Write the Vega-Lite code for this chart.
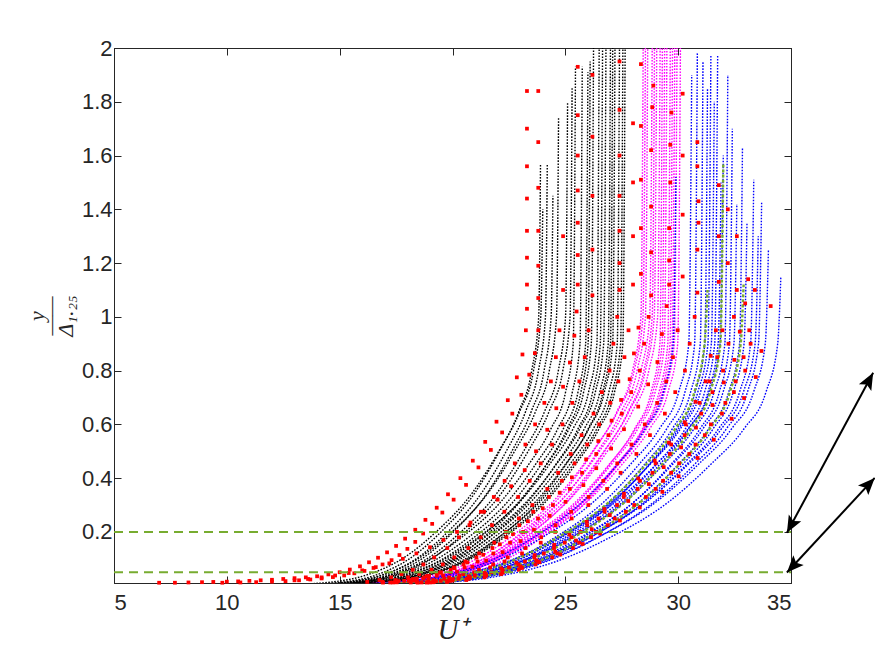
{
  "$schema": "https://vega.github.io/schema/vega-lite/v6.json",
  "width": 677,
  "height": 535,
  "autosize": "none",
  "padding": {"left": 114, "top": 48, "right": 84, "bottom": 73},
  "background": "white",
  "config": {"view": {"stroke": "#262626", "strokeWidth": 1}},
  "datasets": {
    "k": [
      {"i":1,"x":13.05,"y":0.003},{"i":1,"x":15.01,"y":0.012},{"i":1,"x":16.62,"y":0.04},{"i":1,"x":18.09,"y":0.1},{"i":1,"x":19.49,"y":0.2},{"i":1,"x":21.03,"y":0.35},{"i":1,"x":22.08,"y":0.5},{"i":1,"x":22.95,"y":0.65},{"i":1,"x":23.51,"y":0.8},{"i":1,"x":23.82,"y":1.0},{"i":1,"x":23.9,"y":1.57},
      {"i":2,"x":13.35,"y":0.003},{"i":2,"x":15.31,"y":0.012},{"i":2,"x":16.92,"y":0.04},{"i":2,"x":18.39,"y":0.1},{"i":2,"x":19.79,"y":0.2},{"i":2,"x":21.33,"y":0.35},{"i":2,"x":22.38,"y":0.5},{"i":2,"x":23.25,"y":0.65},{"i":2,"x":23.81,"y":0.8},{"i":2,"x":24.12,"y":1.0},{"i":2,"x":24.2,"y":1.57},
      {"i":3,"x":13.6,"y":0.003},{"i":3,"x":15.56,"y":0.012},{"i":3,"x":17.17,"y":0.04},{"i":3,"x":18.64,"y":0.1},{"i":3,"x":20.04,"y":0.2},{"i":3,"x":21.58,"y":0.35},{"i":3,"x":22.63,"y":0.5},{"i":3,"x":23.5,"y":0.65},{"i":3,"x":24.06,"y":0.8},{"i":3,"x":24.37,"y":1.0},{"i":3,"x":24.45,"y":1.45},
      {"i":4,"x":13.07,"y":0.003},{"i":4,"x":15.17,"y":0.012},{"i":4,"x":16.9,"y":0.04},{"i":4,"x":18.47,"y":0.1},{"i":4,"x":19.97,"y":0.2},{"i":4,"x":21.62,"y":0.35},{"i":4,"x":22.75,"y":0.5},{"i":4,"x":23.69,"y":0.65},{"i":4,"x":24.29,"y":0.8},{"i":4,"x":24.61,"y":1.0},{"i":4,"x":24.7,"y":1.74},
      {"i":5,"x":13.47,"y":0.003},{"i":5,"x":15.57,"y":0.012},{"i":5,"x":17.3,"y":0.04},{"i":5,"x":18.87,"y":0.1},{"i":5,"x":20.37,"y":0.2},{"i":5,"x":22.02,"y":0.35},{"i":5,"x":23.15,"y":0.5},{"i":5,"x":24.09,"y":0.65},{"i":5,"x":24.69,"y":0.8},{"i":5,"x":25.01,"y":1.0},{"i":5,"x":25.1,"y":1.8},
      {"i":6,"x":13.67,"y":0.003},{"i":6,"x":15.77,"y":0.012},{"i":6,"x":17.5,"y":0.04},{"i":6,"x":19.07,"y":0.1},{"i":6,"x":20.57,"y":0.2},{"i":6,"x":22.22,"y":0.35},{"i":6,"x":23.35,"y":0.5},{"i":6,"x":24.29,"y":0.65},{"i":6,"x":24.89,"y":0.8},{"i":6,"x":25.21,"y":1.0},{"i":6,"x":25.3,"y":1.85},
      {"i":7,"x":13.05,"y":0.0027},{"i":7,"x":15.29,"y":0.0108},{"i":7,"x":17.13,"y":0.036},{"i":7,"x":18.81,"y":0.09},{"i":7,"x":20.41,"y":0.18},{"i":7,"x":22.17,"y":0.315},{"i":7,"x":23.37,"y":0.45},{"i":7,"x":24.37,"y":0.585},{"i":7,"x":25.01,"y":0.72},{"i":7,"x":25.35,"y":0.9},{"i":7,"x":25.45,"y":1.93},
      {"i":8,"x":13.35,"y":0.0027},{"i":8,"x":15.59,"y":0.0108},{"i":8,"x":17.43,"y":0.036},{"i":8,"x":19.11,"y":0.09},{"i":8,"x":20.71,"y":0.18},{"i":8,"x":22.47,"y":0.315},{"i":8,"x":23.67,"y":0.45},{"i":8,"x":24.67,"y":0.585},{"i":8,"x":25.31,"y":0.72},{"i":8,"x":25.65,"y":0.9},{"i":8,"x":25.75,"y":1.93},
      {"i":9,"x":13.6,"y":0.0027},{"i":9,"x":15.84,"y":0.0108},{"i":9,"x":17.68,"y":0.036},{"i":9,"x":19.36,"y":0.09},{"i":9,"x":20.96,"y":0.18},{"i":9,"x":22.72,"y":0.315},{"i":9,"x":23.92,"y":0.45},{"i":9,"x":24.92,"y":0.585},{"i":9,"x":25.56,"y":0.72},{"i":9,"x":25.9,"y":0.9},{"i":9,"x":26.0,"y":1.91},
      {"i":10,"x":13.85,"y":0.0027},{"i":10,"x":16.09,"y":0.0108},{"i":10,"x":17.93,"y":0.036},{"i":10,"x":19.61,"y":0.09},{"i":10,"x":21.21,"y":0.18},{"i":10,"x":22.97,"y":0.315},{"i":10,"x":24.17,"y":0.45},{"i":10,"x":25.17,"y":0.585},{"i":10,"x":25.81,"y":0.72},{"i":10,"x":26.15,"y":0.9},{"i":10,"x":26.25,"y":2.0},
      {"i":11,"x":13.32,"y":0.0027},{"i":11,"x":15.7,"y":0.0108},{"i":11,"x":17.66,"y":0.036},{"i":11,"x":19.44,"y":0.09},{"i":11,"x":21.14,"y":0.18},{"i":11,"x":23.01,"y":0.315},{"i":11,"x":24.29,"y":0.45},{"i":11,"x":25.35,"y":0.585},{"i":11,"x":26.03,"y":0.72},{"i":11,"x":26.4,"y":0.9},{"i":11,"x":26.5,"y":2.0},
      {"i":12,"x":14.25,"y":0.0027},{"i":12,"x":16.49,"y":0.0108},{"i":12,"x":18.33,"y":0.036},{"i":12,"x":20.01,"y":0.09},{"i":12,"x":21.61,"y":0.18},{"i":12,"x":23.37,"y":0.315},{"i":12,"x":24.57,"y":0.45},{"i":12,"x":25.57,"y":0.585},{"i":12,"x":26.21,"y":0.72},{"i":12,"x":26.55,"y":0.9},{"i":12,"x":26.65,"y":2.0},
      {"i":13,"x":13.62,"y":0.0027},{"i":13,"x":16.0,"y":0.0108},{"i":13,"x":17.96,"y":0.036},{"i":13,"x":19.74,"y":0.09},{"i":13,"x":21.44,"y":0.18},{"i":13,"x":23.31,"y":0.315},{"i":13,"x":24.59,"y":0.45},{"i":13,"x":25.65,"y":0.585},{"i":13,"x":26.33,"y":0.72},{"i":13,"x":26.7,"y":0.9},{"i":13,"x":26.8,"y":2.0},
      {"i":14,"x":13.82,"y":0.0027},{"i":14,"x":16.2,"y":0.0108},{"i":14,"x":18.16,"y":0.036},{"i":14,"x":19.94,"y":0.09},{"i":14,"x":21.64,"y":0.18},{"i":14,"x":23.51,"y":0.315},{"i":14,"x":24.79,"y":0.45},{"i":14,"x":25.85,"y":0.585},{"i":14,"x":26.53,"y":0.72},{"i":14,"x":26.9,"y":0.9},{"i":14,"x":27.0,"y":2.0},
      {"i":15,"x":14.02,"y":0.0027},{"i":15,"x":16.4,"y":0.0108},{"i":15,"x":18.36,"y":0.036},{"i":15,"x":20.14,"y":0.09},{"i":15,"x":21.84,"y":0.18},{"i":15,"x":23.71,"y":0.315},{"i":15,"x":24.99,"y":0.45},{"i":15,"x":26.05,"y":0.585},{"i":15,"x":26.73,"y":0.72},{"i":15,"x":27.1,"y":0.9},{"i":15,"x":27.2,"y":2.0},
      {"i":16,"x":14.22,"y":0.0027},{"i":16,"x":16.6,"y":0.0108},{"i":16,"x":18.56,"y":0.036},{"i":16,"x":20.34,"y":0.09},{"i":16,"x":22.04,"y":0.18},{"i":16,"x":23.91,"y":0.315},{"i":16,"x":25.19,"y":0.45},{"i":16,"x":26.25,"y":0.585},{"i":16,"x":26.93,"y":0.72},{"i":16,"x":27.3,"y":0.9},{"i":16,"x":27.4,"y":2.0},
      {"i":17,"x":14.37,"y":0.0027},{"i":17,"x":16.75,"y":0.0108},{"i":17,"x":18.71,"y":0.036},{"i":17,"x":20.49,"y":0.09},{"i":17,"x":22.19,"y":0.18},{"i":17,"x":24.06,"y":0.315},{"i":17,"x":25.34,"y":0.45},{"i":17,"x":26.4,"y":0.585},{"i":17,"x":27.08,"y":0.72},{"i":17,"x":27.45,"y":0.9},{"i":17,"x":27.55,"y":2.0},
      {"i":18,"x":14.47,"y":0.0027},{"i":18,"x":16.85,"y":0.0108},{"i":18,"x":18.81,"y":0.036},{"i":18,"x":20.59,"y":0.09},{"i":18,"x":22.29,"y":0.18},{"i":18,"x":24.16,"y":0.315},{"i":18,"x":25.44,"y":0.45},{"i":18,"x":26.5,"y":0.585},{"i":18,"x":27.18,"y":0.72},{"i":18,"x":27.55,"y":0.9},{"i":18,"x":27.65,"y":2.0},
      {"i":19,"x":14.47,"y":0.0027},{"i":19,"x":16.57,"y":0.0108},{"i":19,"x":18.3,"y":0.036},{"i":19,"x":19.87,"y":0.09},{"i":19,"x":21.37,"y":0.18},{"i":19,"x":23.02,"y":0.315},{"i":19,"x":24.15,"y":0.45},{"i":19,"x":25.09,"y":0.585},{"i":19,"x":25.69,"y":0.72},{"i":19,"x":26.01,"y":0.9},{"i":19,"x":26.1,"y":1.95},
      {"i":20,"x":14.7,"y":0.0027},{"i":20,"x":16.94,"y":0.0108},{"i":20,"x":18.78,"y":0.036},{"i":20,"x":20.46,"y":0.09},{"i":20,"x":22.06,"y":0.18},{"i":20,"x":23.82,"y":0.315},{"i":20,"x":25.02,"y":0.45},{"i":20,"x":26.02,"y":0.585},{"i":20,"x":26.66,"y":0.72},{"i":20,"x":27.0,"y":0.9},{"i":20,"x":27.1,"y":2.0},
      {"i":21,"x":12.37,"y":0.003},{"i":21,"x":14.47,"y":0.012},{"i":21,"x":16.2,"y":0.04},{"i":21,"x":17.77,"y":0.1},{"i":21,"x":19.27,"y":0.2},{"i":21,"x":20.92,"y":0.35},{"i":21,"x":22.05,"y":0.5},{"i":21,"x":22.99,"y":0.65},{"i":21,"x":23.59,"y":0.8},{"i":21,"x":23.91,"y":1.0},{"i":21,"x":24.0,"y":1.4}
    ],
    "m": [
      {"i":1,"x":15.27,"y":0.003},{"i":1,"x":17.65,"y":0.012},{"i":1,"x":19.61,"y":0.04},{"i":1,"x":21.39,"y":0.1},{"i":1,"x":23.09,"y":0.2},{"i":1,"x":24.96,"y":0.35},{"i":1,"x":26.24,"y":0.5},{"i":1,"x":27.3,"y":0.65},{"i":1,"x":27.98,"y":0.8},{"i":1,"x":28.35,"y":1.0},{"i":1,"x":28.45,"y":2.0},
      {"i":2,"x":15.47,"y":0.003},{"i":2,"x":17.85,"y":0.012},{"i":2,"x":19.81,"y":0.04},{"i":2,"x":21.59,"y":0.1},{"i":2,"x":23.29,"y":0.2},{"i":2,"x":25.16,"y":0.35},{"i":2,"x":26.44,"y":0.5},{"i":2,"x":27.5,"y":0.65},{"i":2,"x":28.18,"y":0.8},{"i":2,"x":28.55,"y":1.0},{"i":2,"x":28.65,"y":2.0},
      {"i":3,"x":14.9,"y":0.003},{"i":3,"x":17.42,"y":0.012},{"i":3,"x":19.49,"y":0.04},{"i":3,"x":21.38,"y":0.1},{"i":3,"x":23.18,"y":0.2},{"i":3,"x":25.16,"y":0.35},{"i":3,"x":26.51,"y":0.5},{"i":3,"x":27.63,"y":0.65},{"i":3,"x":28.35,"y":0.8},{"i":3,"x":28.74,"y":1.0},{"i":3,"x":28.85,"y":2.0},
      {"i":4,"x":15.1,"y":0.003},{"i":4,"x":17.62,"y":0.012},{"i":4,"x":19.69,"y":0.04},{"i":4,"x":21.58,"y":0.1},{"i":4,"x":23.38,"y":0.2},{"i":4,"x":25.36,"y":0.35},{"i":4,"x":26.71,"y":0.5},{"i":4,"x":27.83,"y":0.65},{"i":4,"x":28.55,"y":0.8},{"i":4,"x":28.94,"y":1.0},{"i":4,"x":29.05,"y":2.0},
      {"i":5,"x":15.25,"y":0.003},{"i":5,"x":17.77,"y":0.012},{"i":5,"x":19.84,"y":0.04},{"i":5,"x":21.73,"y":0.1},{"i":5,"x":23.53,"y":0.2},{"i":5,"x":25.51,"y":0.35},{"i":5,"x":26.86,"y":0.5},{"i":5,"x":27.98,"y":0.65},{"i":5,"x":28.7,"y":0.8},{"i":5,"x":29.09,"y":1.0},{"i":5,"x":29.2,"y":2.0},
      {"i":6,"x":15.35,"y":0.0027},{"i":6,"x":17.87,"y":0.0108},{"i":6,"x":19.94,"y":0.036},{"i":6,"x":21.83,"y":0.09},{"i":6,"x":23.63,"y":0.18},{"i":6,"x":25.61,"y":0.315},{"i":6,"x":26.96,"y":0.45},{"i":6,"x":28.08,"y":0.585},{"i":6,"x":28.8,"y":0.72},{"i":6,"x":29.19,"y":0.9},{"i":6,"x":29.3,"y":2.0},
      {"i":7,"x":14.77,"y":0.0027},{"i":7,"x":17.43,"y":0.0108},{"i":7,"x":19.62,"y":0.036},{"i":7,"x":21.61,"y":0.09},{"i":7,"x":23.51,"y":0.18},{"i":7,"x":25.6,"y":0.315},{"i":7,"x":27.03,"y":0.45},{"i":7,"x":28.22,"y":0.585},{"i":7,"x":28.98,"y":0.72},{"i":7,"x":29.39,"y":0.9},{"i":7,"x":29.5,"y":2.0},
      {"i":8,"x":15.02,"y":0.0027},{"i":8,"x":17.68,"y":0.0108},{"i":8,"x":19.87,"y":0.036},{"i":8,"x":21.86,"y":0.09},{"i":8,"x":23.76,"y":0.18},{"i":8,"x":25.85,"y":0.315},{"i":8,"x":27.28,"y":0.45},{"i":8,"x":28.47,"y":0.585},{"i":8,"x":29.23,"y":0.72},{"i":8,"x":29.64,"y":0.9},{"i":8,"x":29.75,"y":2.0},
      {"i":9,"x":14.45,"y":0.0027},{"i":9,"x":17.25,"y":0.0108},{"i":9,"x":19.55,"y":0.036},{"i":9,"x":21.65,"y":0.09},{"i":9,"x":23.65,"y":0.18},{"i":9,"x":25.85,"y":0.315},{"i":9,"x":27.35,"y":0.45},{"i":9,"x":28.6,"y":0.585},{"i":9,"x":29.4,"y":0.72},{"i":9,"x":29.83,"y":0.9},{"i":9,"x":29.95,"y":2.0},
      {"i":10,"x":14.6,"y":0.0027},{"i":10,"x":17.4,"y":0.0108},{"i":10,"x":19.7,"y":0.036},{"i":10,"x":21.8,"y":0.09},{"i":10,"x":23.8,"y":0.18},{"i":10,"x":26.0,"y":0.315},{"i":10,"x":27.5,"y":0.45},{"i":10,"x":28.75,"y":0.585},{"i":10,"x":29.55,"y":0.72},{"i":10,"x":29.98,"y":0.9},{"i":10,"x":30.1,"y":2.0},
      {"i":11,"x":14.6,"y":0.003},{"i":11,"x":17.12,"y":0.012},{"i":11,"x":19.19,"y":0.04},{"i":11,"x":21.08,"y":0.1},{"i":11,"x":22.88,"y":0.2},{"i":11,"x":24.86,"y":0.35},{"i":11,"x":26.21,"y":0.5},{"i":11,"x":27.33,"y":0.65},{"i":11,"x":28.05,"y":0.8},{"i":11,"x":28.44,"y":1.0},{"i":11,"x":28.55,"y":2.0},
      {"i":12,"x":15.77,"y":0.003},{"i":12,"x":18.15,"y":0.012},{"i":12,"x":20.11,"y":0.04},{"i":12,"x":21.89,"y":0.1},{"i":12,"x":23.59,"y":0.2},{"i":12,"x":25.46,"y":0.35},{"i":12,"x":26.74,"y":0.5},{"i":12,"x":27.8,"y":0.65},{"i":12,"x":28.48,"y":0.8},{"i":12,"x":28.85,"y":1.0},{"i":12,"x":28.95,"y":2.0},
      {"i":13,"x":14.67,"y":0.0027},{"i":13,"x":17.33,"y":0.0108},{"i":13,"x":19.52,"y":0.036},{"i":13,"x":21.51,"y":0.09},{"i":13,"x":23.41,"y":0.18},{"i":13,"x":25.5,"y":0.315},{"i":13,"x":26.93,"y":0.45},{"i":13,"x":28.12,"y":0.585},{"i":13,"x":28.88,"y":0.72},{"i":13,"x":29.29,"y":0.9},{"i":13,"x":29.4,"y":2.0},
      {"i":14,"x":15.7,"y":0.0027},{"i":14,"x":18.22,"y":0.0108},{"i":14,"x":20.29,"y":0.036},{"i":14,"x":22.18,"y":0.09},{"i":14,"x":23.98,"y":0.18},{"i":14,"x":25.96,"y":0.315},{"i":14,"x":27.31,"y":0.45},{"i":14,"x":28.43,"y":0.585},{"i":14,"x":29.15,"y":0.72},{"i":14,"x":29.54,"y":0.9},{"i":14,"x":29.65,"y":2.0},
      {"i":15,"x":14.35,"y":0.0027},{"i":15,"x":17.15,"y":0.0108},{"i":15,"x":19.45,"y":0.036},{"i":15,"x":21.55,"y":0.09},{"i":15,"x":23.55,"y":0.18},{"i":15,"x":25.75,"y":0.315},{"i":15,"x":27.25,"y":0.45},{"i":15,"x":28.5,"y":0.585},{"i":15,"x":29.3,"y":0.72},{"i":15,"x":29.73,"y":0.9},{"i":15,"x":29.85,"y":2.0}
    ],
    "b": [
      {"i":1,"x":14.4,"y":0.0027},{"i":1,"x":17.2,"y":0.0108},{"i":1,"x":19.5,"y":0.036},{"i":1,"x":21.6,"y":0.09},{"i":1,"x":23.6,"y":0.18},{"i":1,"x":25.8,"y":0.315},{"i":1,"x":27.3,"y":0.45},{"i":1,"x":28.55,"y":0.585},{"i":1,"x":29.35,"y":0.72},{"i":1,"x":29.78,"y":0.9},{"i":1,"x":29.9,"y":1.52},
      {"i":2,"x":15.35,"y":0.0027},{"i":2,"x":18.15,"y":0.0108},{"i":2,"x":20.45,"y":0.036},{"i":2,"x":22.55,"y":0.09},{"i":2,"x":24.55,"y":0.18},{"i":2,"x":26.75,"y":0.315},{"i":2,"x":28.25,"y":0.45},{"i":2,"x":29.5,"y":0.585},{"i":2,"x":30.3,"y":0.72},{"i":2,"x":30.73,"y":0.9},{"i":2,"x":30.85,"y":1.98},
      {"i":3,"x":15.6,"y":0.0027},{"i":3,"x":18.4,"y":0.0108},{"i":3,"x":20.7,"y":0.036},{"i":3,"x":22.8,"y":0.09},{"i":3,"x":24.8,"y":0.18},{"i":3,"x":27.0,"y":0.315},{"i":3,"x":28.5,"y":0.45},{"i":3,"x":29.75,"y":0.585},{"i":3,"x":30.55,"y":0.72},{"i":3,"x":30.98,"y":0.9},{"i":3,"x":31.1,"y":1.95},
      {"i":4,"x":15.8,"y":0.0027},{"i":4,"x":18.6,"y":0.0108},{"i":4,"x":20.9,"y":0.036},{"i":4,"x":23.0,"y":0.09},{"i":4,"x":25.0,"y":0.18},{"i":4,"x":27.2,"y":0.315},{"i":4,"x":28.7,"y":0.45},{"i":4,"x":29.95,"y":0.585},{"i":4,"x":30.75,"y":0.72},{"i":4,"x":31.18,"y":0.9},{"i":4,"x":31.3,"y":1.85},
      {"i":5,"x":15.17,"y":0.0027},{"i":5,"x":18.11,"y":0.0108},{"i":5,"x":20.53,"y":0.036},{"i":5,"x":22.73,"y":0.09},{"i":5,"x":24.83,"y":0.18},{"i":5,"x":27.14,"y":0.315},{"i":5,"x":28.72,"y":0.45},{"i":5,"x":30.03,"y":0.585},{"i":5,"x":30.87,"y":0.72},{"i":5,"x":31.32,"y":0.9},{"i":5,"x":31.45,"y":1.97},
      {"i":6,"x":15.47,"y":0.0027},{"i":6,"x":18.41,"y":0.0108},{"i":6,"x":20.83,"y":0.036},{"i":6,"x":23.03,"y":0.09},{"i":6,"x":25.13,"y":0.18},{"i":6,"x":27.44,"y":0.315},{"i":6,"x":29.02,"y":0.45},{"i":6,"x":30.33,"y":0.585},{"i":6,"x":31.17,"y":0.72},{"i":6,"x":31.62,"y":0.9},{"i":6,"x":31.75,"y":1.97},
      {"i":7,"x":15.62,"y":0.0027},{"i":7,"x":18.56,"y":0.0108},{"i":7,"x":20.98,"y":0.036},{"i":7,"x":23.18,"y":0.09},{"i":7,"x":25.28,"y":0.18},{"i":7,"x":27.59,"y":0.315},{"i":7,"x":29.17,"y":0.45},{"i":7,"x":30.48,"y":0.585},{"i":7,"x":31.32,"y":0.72},{"i":7,"x":31.77,"y":0.9},{"i":7,"x":31.9,"y":1.5},
      {"i":8,"x":15.15,"y":0.0027},{"i":8,"x":18.23,"y":0.0108},{"i":8,"x":20.76,"y":0.036},{"i":8,"x":23.07,"y":0.09},{"i":8,"x":25.27,"y":0.18},{"i":8,"x":27.69,"y":0.315},{"i":8,"x":29.34,"y":0.45},{"i":8,"x":30.71,"y":0.585},{"i":8,"x":31.59,"y":0.72},{"i":8,"x":32.07,"y":0.9},{"i":8,"x":32.2,"y":1.9},
      {"i":9,"x":16.12,"y":0.0027},{"i":9,"x":19.06,"y":0.0108},{"i":9,"x":21.48,"y":0.036},{"i":9,"x":23.68,"y":0.09},{"i":9,"x":25.78,"y":0.18},{"i":9,"x":28.09,"y":0.315},{"i":9,"x":29.67,"y":0.45},{"i":9,"x":30.98,"y":0.585},{"i":9,"x":31.82,"y":0.72},{"i":9,"x":32.27,"y":0.9},{"i":9,"x":32.4,"y":1.7},
      {"i":10,"x":15.55,"y":0.0027},{"i":10,"x":18.63,"y":0.0108},{"i":10,"x":21.16,"y":0.036},{"i":10,"x":23.47,"y":0.09},{"i":10,"x":25.67,"y":0.18},{"i":10,"x":28.09,"y":0.315},{"i":10,"x":29.74,"y":0.45},{"i":10,"x":31.11,"y":0.585},{"i":10,"x":31.99,"y":0.72},{"i":10,"x":32.47,"y":0.9},{"i":10,"x":32.6,"y":1.42},
      {"i":11,"x":15.8,"y":0.0027},{"i":11,"x":18.88,"y":0.0108},{"i":11,"x":21.41,"y":0.036},{"i":11,"x":23.72,"y":0.09},{"i":11,"x":25.92,"y":0.18},{"i":11,"x":28.34,"y":0.315},{"i":11,"x":29.99,"y":0.45},{"i":11,"x":31.36,"y":0.585},{"i":11,"x":32.24,"y":0.72},{"i":11,"x":32.72,"y":0.9},{"i":11,"x":32.85,"y":1.63},
      {"i":12,"x":16.0,"y":0.0027},{"i":12,"x":19.08,"y":0.0108},{"i":12,"x":21.61,"y":0.036},{"i":12,"x":23.92,"y":0.09},{"i":12,"x":26.12,"y":0.18},{"i":12,"x":28.54,"y":0.315},{"i":12,"x":30.19,"y":0.45},{"i":12,"x":31.56,"y":0.585},{"i":12,"x":32.44,"y":0.72},{"i":12,"x":32.92,"y":0.9},{"i":12,"x":33.05,"y":1.35},
      {"i":13,"x":15.52,"y":0.0027},{"i":13,"x":18.74,"y":0.0108},{"i":13,"x":21.39,"y":0.036},{"i":13,"x":23.8,"y":0.09},{"i":13,"x":26.1,"y":0.18},{"i":13,"x":28.63,"y":0.315},{"i":13,"x":30.36,"y":0.45},{"i":13,"x":31.8,"y":0.585},{"i":13,"x":32.72,"y":0.72},{"i":13,"x":33.21,"y":0.9},{"i":13,"x":33.35,"y":1.51},
      {"i":14,"x":15.87,"y":0.0027},{"i":14,"x":19.09,"y":0.0108},{"i":14,"x":21.74,"y":0.036},{"i":14,"x":24.15,"y":0.09},{"i":14,"x":26.45,"y":0.18},{"i":14,"x":28.98,"y":0.315},{"i":14,"x":30.71,"y":0.45},{"i":14,"x":32.15,"y":0.585},{"i":14,"x":33.07,"y":0.72},{"i":14,"x":33.56,"y":0.9},{"i":14,"x":33.7,"y":1.43},
      {"i":15,"x":15.95,"y":0.0027},{"i":15,"x":19.31,"y":0.0108},{"i":15,"x":22.07,"y":0.036},{"i":15,"x":24.59,"y":0.09},{"i":15,"x":26.99,"y":0.18},{"i":15,"x":29.63,"y":0.315},{"i":15,"x":31.43,"y":0.45},{"i":15,"x":32.93,"y":0.585},{"i":15,"x":33.89,"y":0.72},{"i":15,"x":34.41,"y":0.9},{"i":15,"x":34.55,"y":1.15},
      {"i":16,"x":14.32,"y":0.0027},{"i":16,"x":17.26,"y":0.0108},{"i":16,"x":19.68,"y":0.036},{"i":16,"x":21.88,"y":0.09},{"i":16,"x":23.98,"y":0.18},{"i":16,"x":26.29,"y":0.315},{"i":16,"x":27.87,"y":0.45},{"i":16,"x":29.18,"y":0.585},{"i":16,"x":30.02,"y":0.72},{"i":16,"x":30.47,"y":0.9},{"i":16,"x":30.6,"y":1.9},
      {"i":17,"x":14.55,"y":0.0027},{"i":17,"x":17.63,"y":0.0108},{"i":17,"x":20.16,"y":0.036},{"i":17,"x":22.47,"y":0.09},{"i":17,"x":24.67,"y":0.18},{"i":17,"x":27.09,"y":0.315},{"i":17,"x":28.74,"y":0.45},{"i":17,"x":30.11,"y":0.585},{"i":17,"x":30.99,"y":0.72},{"i":17,"x":31.47,"y":0.9},{"i":17,"x":31.6,"y":1.8},
      {"i":18,"x":14.17,"y":0.0027},{"i":18,"x":17.39,"y":0.0108},{"i":18,"x":20.04,"y":0.036},{"i":18,"x":22.45,"y":0.09},{"i":18,"x":24.75,"y":0.18},{"i":18,"x":27.28,"y":0.315},{"i":18,"x":29.01,"y":0.45},{"i":18,"x":30.45,"y":0.585},{"i":18,"x":31.37,"y":0.72},{"i":18,"x":31.86,"y":0.9},{"i":18,"x":32.0,"y":1.6},
      {"i":19,"x":14.95,"y":0.0027},{"i":19,"x":18.31,"y":0.0108},{"i":19,"x":21.07,"y":0.036},{"i":19,"x":23.59,"y":0.09},{"i":19,"x":25.99,"y":0.18},{"i":19,"x":28.63,"y":0.315},{"i":19,"x":30.43,"y":0.45},{"i":19,"x":31.93,"y":0.585},{"i":19,"x":32.89,"y":0.72},{"i":19,"x":33.41,"y":0.9},{"i":19,"x":33.55,"y":1.3},
      {"i":20,"x":15.4,"y":0.0027},{"i":20,"x":18.76,"y":0.0108},{"i":20,"x":21.52,"y":0.036},{"i":20,"x":24.04,"y":0.09},{"i":20,"x":26.44,"y":0.18},{"i":20,"x":29.08,"y":0.315},{"i":20,"x":30.88,"y":0.45},{"i":20,"x":32.38,"y":0.585},{"i":20,"x":33.34,"y":0.72},{"i":20,"x":33.86,"y":0.9},{"i":20,"x":34.0,"y":1.25}
    ],
    "g": [
      {"i":1,"x":15.02,"y":0.0027},{"i":1,"x":17.96,"y":0.0108},{"i":1,"x":20.38,"y":0.036},{"i":1,"x":22.58,"y":0.09},{"i":1,"x":24.68,"y":0.18},{"i":1,"x":26.99,"y":0.315},{"i":1,"x":28.57,"y":0.45},{"i":1,"x":29.88,"y":0.585},{"i":1,"x":30.72,"y":0.72},{"i":1,"x":31.17,"y":0.9},{"i":1,"x":31.3,"y":1.1},
      {"i":2,"x":15.72,"y":0.0027},{"i":2,"x":18.66,"y":0.0108},{"i":2,"x":21.08,"y":0.036},{"i":2,"x":23.28,"y":0.09},{"i":2,"x":25.38,"y":0.18},{"i":2,"x":27.69,"y":0.315},{"i":2,"x":29.27,"y":0.45},{"i":2,"x":30.58,"y":0.585},{"i":2,"x":31.42,"y":0.72},{"i":2,"x":31.87,"y":0.9},{"i":2,"x":32.0,"y":1.57},
      {"i":3,"x":15.85,"y":0.0027},{"i":3,"x":18.93,"y":0.0108},{"i":3,"x":21.46,"y":0.036},{"i":3,"x":23.77,"y":0.09},{"i":3,"x":25.97,"y":0.18},{"i":3,"x":28.39,"y":0.315},{"i":3,"x":30.04,"y":0.45},{"i":3,"x":31.41,"y":0.585},{"i":3,"x":32.29,"y":0.72},{"i":3,"x":32.77,"y":0.9},{"i":3,"x":32.9,"y":1.12}
    ],
    "r": [
      {"x":7.0,"y":0.011},{"x":7.7,"y":0.011},{"x":8.3,"y":0.012},{"x":8.9,"y":0.013},{"x":9.4,"y":0.014},{"x":10.0,"y":0.015},{"x":10.5,"y":0.016},{"x":11.0,"y":0.018},{"x":11.5,"y":0.02},{"x":12.0,"y":0.022},{"x":12.5,"y":0.025},{"x":13.0,"y":0.028},{"x":13.5,"y":0.031},{"x":14.0,"y":0.035},{"x":14.5,"y":0.042},{"x":15.0,"y":0.05},{"x":15.45,"y":0.06},{"x":15.9,"y":0.072},{"x":16.3,"y":0.087},{"x":16.7,"y":0.104},{"x":17.1,"y":0.124},{"x":17.5,"y":0.148},{"x":17.9,"y":0.175},{"x":18.35,"y":0.208},{"x":18.8,"y":0.245},{"x":19.3,"y":0.29},{"x":19.8,"y":0.34},{"x":20.35,"y":0.4},{"x":20.9,"y":0.465},{"x":21.45,"y":0.535},{"x":21.95,"y":0.61},{"x":22.45,"y":0.69},{"x":22.85,"y":0.775},{"x":23.1,"y":0.86},{"x":23.25,"y":0.95},{"x":23.3,"y":1.03},{"x":23.3,"y":1.12},{"x":23.3,"y":1.22},{"x":23.3,"y":1.32},{"x":23.3,"y":1.44},{"x":23.3,"y":1.56},{"x":23.3,"y":1.7},{"x":23.3,"y":1.84},
      {"x":9.8,"y":0.011},{"x":10.6,"y":0.012},{"x":11.3,"y":0.013},{"x":12.0,"y":0.015},{"x":12.6,"y":0.017},{"x":13.2,"y":0.02},{"x":13.7,"y":0.023},{"x":14.2,"y":0.027},{"x":14.7,"y":0.032},{"x":15.2,"y":0.038},{"x":15.65,"y":0.046},{"x":16.1,"y":0.055},{"x":16.5,"y":0.066},{"x":16.9,"y":0.079},{"x":17.3,"y":0.095},{"x":17.65,"y":0.114},{"x":18.0,"y":0.137},{"x":18.35,"y":0.163},{"x":18.7,"y":0.194},{"x":19.1,"y":0.23},{"x":19.55,"y":0.272},{"x":20.05,"y":0.32},{"x":20.6,"y":0.375},{"x":21.15,"y":0.44},{"x":21.7,"y":0.505},{"x":22.2,"y":0.57},{"x":22.65,"y":0.64},{"x":23.05,"y":0.71},{"x":23.4,"y":0.785},{"x":23.65,"y":0.865},{"x":23.8,"y":0.95},{"x":23.8,"y":1.07},{"x":23.8,"y":1.19},{"x":23.8,"y":1.32},{"x":23.8,"y":1.48},{"x":23.8,"y":1.65},{"x":23.8,"y":1.84},
      {"x":13.0,"y":0.02},{"x":13.6,"y":0.025},{"x":14.2,"y":0.031},{"x":14.8,"y":0.038},{"x":15.4,"y":0.047},{"x":16.0,"y":0.057},{"x":16.6,"y":0.069},{"x":17.2,"y":0.083},{"x":17.8,"y":0.1},{"x":18.4,"y":0.12},{"x":19.0,"y":0.143},{"x":19.6,"y":0.17},{"x":20.2,"y":0.2},{"x":20.8,"y":0.235},{"x":21.4,"y":0.275},{"x":22.0,"y":0.32},{"x":22.6,"y":0.37},{"x":23.2,"y":0.43},{"x":23.7,"y":0.5},{"x":24.2,"y":0.58},{"x":24.6,"y":0.66},{"x":24.9,"y":0.74},{"x":25.2,"y":0.83},{"x":25.4,"y":0.93},{"x":25.5,"y":1.02},{"x":25.55,"y":1.12},{"x":25.55,"y":1.23},{"x":25.55,"y":1.35},{"x":25.55,"y":1.47},{"x":25.55,"y":1.6},{"x":25.55,"y":1.75},{"x":25.55,"y":1.93},
      {"x":17.24,"y":0.012},{"x":17.86,"y":0.018},{"x":18.42,"y":0.026},{"x":18.96,"y":0.037},{"x":19.49,"y":0.05},{"x":20.06,"y":0.068},{"x":20.57,"y":0.09},{"x":21.18,"y":0.12},{"x":21.85,"y":0.16},{"x":22.36,"y":0.2},{"x":22.94,"y":0.25},{"x":23.54,"y":0.3},{"x":24.2,"y":0.36},{"x":24.68,"y":0.42},{"x":25.24,"y":0.49},{"x":25.72,"y":0.56},{"x":26.25,"y":0.64},{"x":26.62,"y":0.72},{"x":26.96,"y":0.8},{"x":27.13,"y":0.9},{"x":27.3,"y":1.0},{"x":27.4,"y":1.1},{"x":27.4,"y":1.2},{"x":27.4,"y":1.32},{"x":27.4,"y":1.45},{"x":27.4,"y":1.6},{"x":27.4,"y":1.77},{"x":27.4,"y":1.95},
      {"x":16.92,"y":0.0115},{"x":17.61,"y":0.0173},{"x":18.25,"y":0.025},{"x":18.85,"y":0.0355},{"x":19.45,"y":0.048},{"x":20.09,"y":0.0653},{"x":20.66,"y":0.0864},{"x":21.36,"y":0.115},{"x":22.1,"y":0.154},{"x":22.68,"y":0.192},{"x":23.34,"y":0.24},{"x":24.0,"y":0.288},{"x":24.75,"y":0.346},{"x":25.29,"y":0.403},{"x":25.92,"y":0.47},{"x":26.46,"y":0.538},{"x":27.05,"y":0.614},{"x":27.47,"y":0.691},{"x":27.85,"y":0.768},{"x":28.04,"y":0.864},{"x":28.24,"y":0.96},{"x":28.35,"y":1.16},{"x":28.35,"y":1.33},{"x":28.35,"y":1.51},{"x":28.35,"y":1.71},{"x":28.35,"y":1.94},
      {"x":17.37,"y":0.012},{"x":18.06,"y":0.018},{"x":18.7,"y":0.026},{"x":19.3,"y":0.037},{"x":19.9,"y":0.05},{"x":20.54,"y":0.068},{"x":21.11,"y":0.09},{"x":21.81,"y":0.12},{"x":22.55,"y":0.16},{"x":23.13,"y":0.2},{"x":23.79,"y":0.25},{"x":24.45,"y":0.3},{"x":25.2,"y":0.36},{"x":25.74,"y":0.42},{"x":26.37,"y":0.49},{"x":26.91,"y":0.56},{"x":27.5,"y":0.64},{"x":27.92,"y":0.72},{"x":28.3,"y":0.8},{"x":28.49,"y":0.9},{"x":28.69,"y":1.0},{"x":28.8,"y":1.08},{"x":28.8,"y":1.24},{"x":28.8,"y":1.41},{"x":28.8,"y":1.62},{"x":28.85,"y":1.78},{"x":28.9,"y":1.86},
      {"x":17.53,"y":0.0125},{"x":18.27,"y":0.0187},{"x":18.94,"y":0.027},{"x":19.58,"y":0.0385},{"x":20.2,"y":0.052},{"x":20.88,"y":0.0707},{"x":21.49,"y":0.0936},{"x":22.22,"y":0.125},{"x":23.01,"y":0.166},{"x":23.61,"y":0.208},{"x":24.31,"y":0.26},{"x":25.01,"y":0.312},{"x":25.8,"y":0.374},{"x":26.37,"y":0.437},{"x":27.03,"y":0.51},{"x":27.6,"y":0.582},{"x":28.23,"y":0.666},{"x":28.67,"y":0.749},{"x":29.08,"y":0.832},{"x":29.28,"y":0.936},{"x":29.49,"y":1.04},{"x":29.6,"y":1.12},{"x":29.6,"y":1.21},{"x":29.6,"y":1.33},{"x":29.65,"y":1.5},{"x":29.65,"y":1.64},{"x":29.7,"y":1.76},
      {"x":18.15,"y":0.012},{"x":18.92,"y":0.018},{"x":19.63,"y":0.026},{"x":20.3,"y":0.037},{"x":20.96,"y":0.05},{"x":21.67,"y":0.068},{"x":22.31,"y":0.09},{"x":23.08,"y":0.12},{"x":23.91,"y":0.16},{"x":24.55,"y":0.2},{"x":25.28,"y":0.25},{"x":26.02,"y":0.3},{"x":26.85,"y":0.36},{"x":27.45,"y":0.42},{"x":28.15,"y":0.49},{"x":28.75,"y":0.56},{"x":29.41,"y":0.64},{"x":29.87,"y":0.72},{"x":30.3,"y":0.8},{"x":30.51,"y":0.9},{"x":30.73,"y":1.0},{"x":30.85,"y":1.09},{"x":30.85,"y":1.25},{"x":30.9,"y":1.35},{"x":30.9,"y":1.43},{"x":30.85,"y":1.56},{"x":30.85,"y":1.65},
      {"x":18.46,"y":0.0114},{"x":19.27,"y":0.0171},{"x":20.02,"y":0.0247},{"x":20.72,"y":0.0352},{"x":21.42,"y":0.0475},{"x":22.16,"y":0.0646},{"x":22.83,"y":0.0855},{"x":23.64,"y":0.114},{"x":24.51,"y":0.152},{"x":25.18,"y":0.19},{"x":25.95,"y":0.2375},{"x":26.73,"y":0.285},{"x":27.6,"y":0.342},{"x":28.23,"y":0.399},{"x":28.96,"y":0.4655},{"x":29.59,"y":0.532},{"x":30.29,"y":0.608},{"x":30.77,"y":0.684},{"x":31.22,"y":0.76},{"x":31.44,"y":0.855},{"x":31.67,"y":0.95},{"x":31.8,"y":1.13},{"x":31.8,"y":1.3},{"x":31.8,"y":1.49},
      {"x":18.63,"y":0.012},{"x":19.48,"y":0.018},{"x":20.26,"y":0.026},{"x":20.99,"y":0.037},{"x":21.72,"y":0.05},{"x":22.5,"y":0.068},{"x":23.21,"y":0.09},{"x":24.05,"y":0.12},{"x":24.97,"y":0.16},{"x":25.67,"y":0.2},{"x":26.47,"y":0.25},{"x":27.29,"y":0.3},{"x":28.2,"y":0.36},{"x":28.86,"y":0.42},{"x":29.63,"y":0.49},{"x":30.29,"y":0.56},{"x":31.02,"y":0.64},{"x":31.52,"y":0.72},{"x":31.99,"y":0.8},{"x":32.23,"y":0.9},{"x":32.47,"y":1.0},{"x":32.6,"y":1.1},{"x":32.6,"y":1.3},
      {"x":19.13,"y":0.0126},{"x":19.98,"y":0.0189},{"x":20.76,"y":0.0273},{"x":21.49,"y":0.0389},{"x":22.22,"y":0.0525},{"x":23.0,"y":0.0714},{"x":23.71,"y":0.0945},{"x":24.55,"y":0.126},{"x":25.47,"y":0.168},{"x":26.17,"y":0.21},{"x":26.97,"y":0.2625},{"x":27.79,"y":0.315},{"x":28.7,"y":0.378},{"x":29.36,"y":0.441},{"x":30.13,"y":0.5145},{"x":30.79,"y":0.588},{"x":31.52,"y":0.672},{"x":32.02,"y":0.756},{"x":32.49,"y":0.84},{"x":32.73,"y":0.945},{"x":32.97,"y":1.05},{"x":33.1,"y":1.14},
      {"x":18.99,"y":0.012},{"x":19.88,"y":0.018},{"x":20.7,"y":0.026},{"x":21.47,"y":0.037},{"x":22.23,"y":0.05},{"x":23.04,"y":0.068},{"x":23.78,"y":0.09},{"x":24.66,"y":0.12},{"x":25.62,"y":0.16},{"x":26.35,"y":0.2},{"x":27.19,"y":0.25},{"x":28.05,"y":0.3},{"x":29.0,"y":0.36},{"x":29.69,"y":0.42},{"x":30.49,"y":0.49},{"x":31.18,"y":0.56},{"x":31.94,"y":0.64},{"x":32.47,"y":0.72},{"x":32.97,"y":0.8},{"x":33.21,"y":0.9},
      {"x":18.86,"y":0.0116},{"x":19.78,"y":0.0175},{"x":20.64,"y":0.0252},{"x":21.44,"y":0.0359},{"x":22.23,"y":0.0485},{"x":23.08,"y":0.066},{"x":23.85,"y":0.0873},{"x":24.78,"y":0.116},{"x":25.77,"y":0.155},{"x":26.54,"y":0.194},{"x":27.42,"y":0.2425},{"x":28.3,"y":0.291},{"x":29.3,"y":0.349},{"x":30.02,"y":0.407},{"x":30.86,"y":0.475},{"x":31.58,"y":0.543},{"x":32.37,"y":0.621},{"x":32.92,"y":0.698},{"x":33.44,"y":0.776},{"x":33.69,"y":0.873},{"x":34.1,"y":1.04},
      {"x":16.9,"y":0.014},{"x":17.48,"y":0.021},{"x":18.03,"y":0.031},{"x":18.53,"y":0.043},{"x":19.07,"y":0.059},{"x":19.57,"y":0.079},{"x":20.08,"y":0.105},{"x":20.7,"y":0.14},{"x":21.25,"y":0.18},{"x":21.75,"y":0.225},{"x":22.3,"y":0.275},{"x":22.91,"y":0.33},{"x":23.42,"y":0.39},{"x":23.91,"y":0.455},{"x":24.41,"y":0.525},{"x":24.87,"y":0.6},{"x":25.31,"y":0.68},{"x":25.62,"y":0.76},{"x":25.86,"y":0.85},{"x":26.03,"y":0.95},{"x":26.2,"y":1.08},{"x":26.2,"y":1.25},{"x":26.2,"y":1.45},{"x":26.2,"y":1.67},{"x":26.2,"y":1.9},
      {"x":17.46,"y":0.014},{"x":18.11,"y":0.021},{"x":18.74,"y":0.031},{"x":19.3,"y":0.043},{"x":19.92,"y":0.059},{"x":20.49,"y":0.079},{"x":21.06,"y":0.105},{"x":21.77,"y":0.14},{"x":22.39,"y":0.18},{"x":22.96,"y":0.225},{"x":23.58,"y":0.275},{"x":24.27,"y":0.33},{"x":24.85,"y":0.39},{"x":25.41,"y":0.455},{"x":25.97,"y":0.525},{"x":26.5,"y":0.6},{"x":26.99,"y":0.68},{"x":27.35,"y":0.76},{"x":27.62,"y":0.85},{"x":27.8,"y":0.95},{"x":28.0,"y":1.12},{"x":28.0,"y":1.3},{"x":28.0,"y":1.5},{"x":28.0,"y":1.72},
      {"x":18.42,"y":0.014},{"x":19.15,"y":0.021},{"x":19.85,"y":0.031},{"x":20.48,"y":0.043},{"x":21.17,"y":0.059},{"x":21.8,"y":0.079},{"x":22.45,"y":0.105},{"x":23.24,"y":0.14},{"x":23.93,"y":0.18},{"x":24.57,"y":0.225},{"x":25.26,"y":0.275},{"x":26.03,"y":0.33},{"x":26.68,"y":0.39},{"x":27.3,"y":0.455},{"x":27.93,"y":0.525},{"x":28.52,"y":0.6},{"x":29.07,"y":0.68},{"x":29.47,"y":0.76},{"x":29.77,"y":0.85},{"x":29.98,"y":0.95},{"x":30.2,"y":1.15},{"x":30.2,"y":1.38},{"x":30.2,"y":1.6},{"x":30.2,"y":1.83},
      {"x":19.18,"y":0.014},{"x":19.99,"y":0.021},{"x":20.77,"y":0.031},{"x":21.46,"y":0.043},{"x":22.21,"y":0.059},{"x":22.92,"y":0.079},{"x":23.63,"y":0.105},{"x":24.5,"y":0.14},{"x":25.27,"y":0.18},{"x":25.97,"y":0.225},{"x":26.74,"y":0.275},{"x":27.59,"y":0.33},{"x":28.31,"y":0.39},{"x":29.0,"y":0.455},{"x":29.69,"y":0.525},{"x":30.34,"y":0.6},{"x":30.95,"y":0.68},{"x":31.39,"y":0.76},{"x":31.73,"y":0.85},{"x":31.96,"y":0.95},{"x":32.2,"y":1.2},{"x":32.2,"y":1.4},
      {"x":16.22,"y":0.014},{"x":16.76,"y":0.021},{"x":17.28,"y":0.031},{"x":17.74,"y":0.043},{"x":18.24,"y":0.059},{"x":18.71,"y":0.079},{"x":19.19,"y":0.105},{"x":19.77,"y":0.14},{"x":20.28,"y":0.18},{"x":20.75,"y":0.225},{"x":21.26,"y":0.275},{"x":21.83,"y":0.33},{"x":22.31,"y":0.39},{"x":22.76,"y":0.455},{"x":23.23,"y":0.525},{"x":23.66,"y":0.6},{"x":24.07,"y":0.68},{"x":24.36,"y":0.76},{"x":24.58,"y":0.85},{"x":24.74,"y":0.95},{"x":24.9,"y":1.1},{"x":24.9,"y":1.3},
      {"x":19.76,"y":0.014},{"x":20.61,"y":0.021},{"x":21.42,"y":0.031},{"x":22.15,"y":0.043},{"x":22.94,"y":0.059},{"x":23.68,"y":0.079},{"x":24.42,"y":0.105},{"x":25.34,"y":0.14},{"x":26.14,"y":0.18},{"x":26.88,"y":0.225},{"x":27.68,"y":0.275},{"x":28.57,"y":0.33},{"x":29.33,"y":0.39},{"x":30.04,"y":0.455},{"x":30.77,"y":0.525},{"x":31.45,"y":0.6},{"x":32.09,"y":0.68},{"x":32.55,"y":0.76},{"x":32.9,"y":0.85},{"x":33.15,"y":0.95},{"x":33.4,"y":1.1}
    ],
    "h": [
      {"x":5,"x2":35,"y":0.2},
      {"x":5,"x2":35,"y":0.05}
    ],
    "a": [
      {"a":1,"x":34.82,"y":0.197},{"a":1,"x":38.64,"y":0.792},
      {"a":2,"x":34.82,"y":0.049},{"a":2,"x":38.71,"y":0.401}
    ],
    "ah": [
      {"x":34.82,"y":0.197,"ang":208.4},{"x":38.64,"y":0.792,"ang":28.4},
      {"x":34.82,"y":0.049,"ang":223.1},{"x":38.71,"y":0.401,"ang":43.1}
    ]
  },
  "encoding": {
    "x": {"field": "x", "type": "quantitative", "scale": {"domain": [5, 35], "nice": false, "zero": false}, "axis": null},
    "y": {"field": "y", "type": "quantitative", "scale": {"domain": [0.01, 2], "nice": false, "zero": false}, "axis": null}
  },
  "layer": [
    {
      "data": {"name": "k"},
      "mark": {"type": "line", "color": "#000000", "strokeWidth": 1.4, "strokeDash": [1.6, 1.4], "interpolate": "monotone", "clip": true},
      "encoding": {
        "detail": {"field": "i"},
        "x": {"field": "x", "type": "quantitative", "scale": {"domain": [5, 35], "nice": false, "zero": false},
          "axis": {"orient": "bottom", "values": [5, 10, 15, 20, 25, 30, 35], "format": "~g", "grid": false,
            "title": "U⁺", "titleFont": "Liberation Serif", "titleFontStyle": "italic", "titleFontWeight": "normal", "titleFontSize": 29, "titleColor": "#262626", "titlePadding": 2,
            "labelFont": "Liberation Sans", "labelFontSize": 22, "labelColor": "#262626", "labelPadding": 16,
            "tickSize": -7, "tickColor": "#262626", "domainColor": "#262626"}},
        "y": {"field": "y", "type": "quantitative", "scale": {"domain": [0.01, 2], "nice": false, "zero": false},
          "axis": {"orient": "left", "values": [0.2, 0.4, 0.6, 0.8, 1, 1.2, 1.4, 1.6, 1.8, 2], "format": "~g", "grid": false,
            "title": ["y", "——", "Δ₁.₂₅"], "titleFont": "Liberation Serif", "titleFontStyle": "italic", "titleFontWeight": "normal", "titleFontSize": 22, "titleLineHeight": 14.5, "titleColor": "#262626", "titlePadding": 4,
            "labelFont": "Liberation Sans", "labelFontSize": 22, "labelColor": "#262626", "labelPadding": 9,
            "tickSize": -7, "tickColor": "#262626", "domainColor": "#262626"}}
      }
    },
    {
      "data": {"name": "m"},
      "mark": {"type": "line", "color": "#ff00ff", "strokeWidth": 1.4, "strokeDash": [1.6, 1.4], "interpolate": "monotone", "clip": true},
      "encoding": {"detail": {"field": "i"}}
    },
    {
      "data": {"name": "b"},
      "mark": {"type": "line", "color": "#0000ff", "strokeWidth": 1.4, "strokeDash": [1.6, 1.4], "interpolate": "monotone", "clip": true},
      "encoding": {"detail": {"field": "i"}}
    },
    {
      "data": {"name": "g"},
      "mark": {"type": "line", "color": "#77ac30", "strokeWidth": 2.4, "strokeDash": [3, 2], "interpolate": "monotone", "clip": true},
      "encoding": {"detail": {"field": "i"}}
    },
    {
      "data": {"name": "r"},
      "mark": {"type": "point", "shape": "square", "filled": true, "size": 14, "color": "#ff0000", "opacity": 1}
    },
    {
      "data": {"name": "h"},
      "mark": {"type": "rule", "color": "#77ac30", "strokeWidth": 2, "strokeDash": [9, 6]},
      "encoding": {"x2": {"field": "x2"}}
    },
    {
      "data": {"name": "a"},
      "mark": {"type": "line", "color": "#000000", "strokeWidth": 2},
      "encoding": {
        "detail": {"field": "a"},
        "x": {"field": "x", "type": "quantitative", "scale": {"domain": [5, 35], "nice": false, "zero": false},
          "axis": {"orient": "top", "values": [5, 10, 15, 20, 25, 30, 35], "labels": false, "title": null, "grid": false, "tickSize": -7, "tickColor": "#262626", "domainColor": "#262626"}},
        "y": {"field": "y", "type": "quantitative", "scale": {"domain": [0.01, 2], "nice": false, "zero": false},
          "axis": {"orient": "right", "values": [0.2, 0.4, 0.6, 0.8, 1, 1.2, 1.4, 1.6, 1.8, 2], "labels": false, "title": null, "grid": false, "tickSize": -7, "tickColor": "#262626", "domainColor": "#262626"}}
      }
    },
    {
      "data": {"name": "ah"},
      "mark": {"type": "point", "shape": "M0,0L0.5,1.2L0,0.95L-0.5,1.2Z", "filled": true, "size": 800, "color": "#000000", "opacity": 1},
      "encoding": {"angle": {"field": "ang", "type": "quantitative", "scale": null}}
    }
  ],
  "resolve": {"axis": {"x": "independent", "y": "independent"}}
}
